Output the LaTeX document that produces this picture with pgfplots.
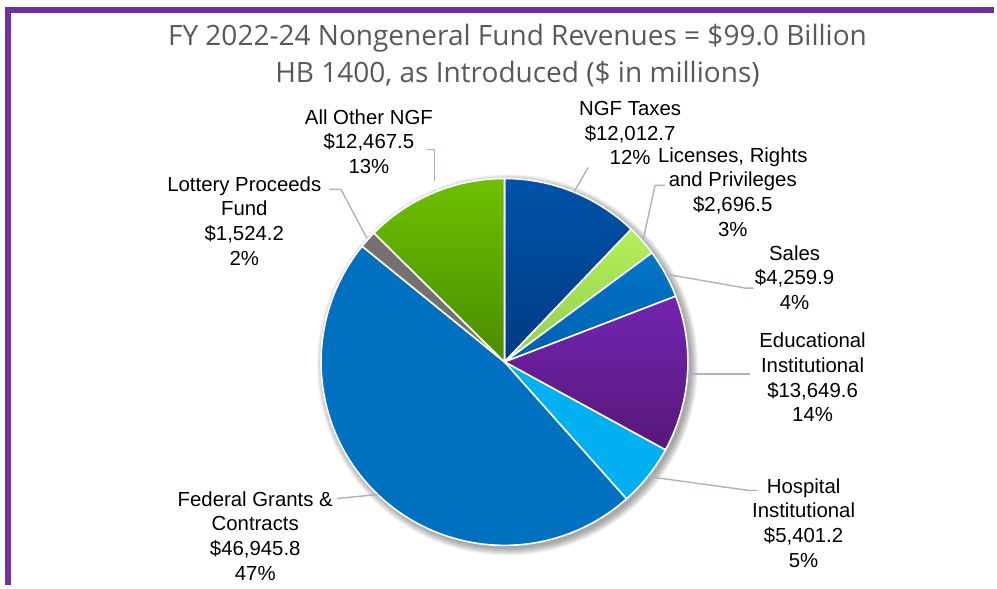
\documentclass[border=0pt]{standalone}
\usepackage{pgfplots}
\pgfplotsset{compat=1.18}
\usepackage{pgfplotstable}
\usepackage{fontspec}
\setmainfont{Liberation Sans}
\newfontfamily\titlefont{Open Sans}
\definecolor{purp}{HTML}{7030A0}
\definecolor{ttl}{HTML}{595959}
\definecolor{lead}{HTML}{A6B4C6}
\definecolor{ngfA}{HTML}{0052AA}
\definecolor{ngfB}{HTML}{003B82}
\definecolor{licA}{HTML}{B4EE58}
\definecolor{licB}{HTML}{92D050}
\definecolor{salA}{HTML}{0076CA}
\definecolor{salB}{HTML}{0060AE}
\definecolor{eduA}{HTML}{7424B2}
\definecolor{eduB}{HTML}{561878}
\definecolor{hosp}{HTML}{00B0F0}
\definecolor{fed}{HTML}{0070C0}
\definecolor{lot}{HTML}{767171}
\definecolor{othA}{HTML}{6EC000}
\definecolor{othB}{HTML}{4A8C00}
\newcommand\lbl{\fontsize{20.5}{24.8}\selectfont}
\newcommand\pS[1]{\csname pieS#1\endcsname}
\newcommand\pE[1]{\csname pieE#1\endcsname}
\begin{document}
\begin{tikzpicture}
\pgfplotstableread[col sep=comma]{
slice,value
NGF Taxes,12012.7
Licenses Rights and Privileges,2696.5
Sales,4259.9
Educational Institutional,13649.6
Hospital Institutional,5401.2
Federal Grants and Contracts,46945.8
Lottery Proceeds Fund,1524.2
All Other NGF,12467.5
}\pietable
\def\pietotal{0}
\pgfplotsforeachungrouped \i in {0,...,7}{%
  \pgfplotstablegetelem{\i}{value}\of\pietable
  \edef\pietotal{\fpeval{\pietotal+\pgfplotsretval}}%
}
\def\piecum{0}
\pgfplotsforeachungrouped \i in {0,...,7}{%
  \pgfplotstablegetelem{\i}{value}\of\pietable
  \edef\sa{\fpeval{round(90-360*\piecum/\pietotal,4)}}%
  \edef\piecum{\fpeval{\piecum+\pgfplotsretval}}%
  \edef\sb{\fpeval{round(90-360*\piecum/\pietotal,4)}}%
  \expandafter\xdef\csname pieS\i\endcsname{\sb}%
  \expandafter\xdef\csname pieE\i\endcsname{\sa}%
}
\begin{axis}[scale only axis, width=997bp, height=587bp,
  xmin=0, xmax=997, ymin=0, ymax=587, hide axis, clip=false]
\path (axis cs:0,0) rectangle (axis cs:997,587);
% border
\draw[purp, line width=6bp, line join=miter] (axis cs:8,0) -- (axis cs:8,577) -- (axis cs:997,577);
% soft shadow
\pgfplotsinvokeforeach{1,2,3,4,5,6,7,8}{
  \fill[black, opacity=0.05] (axis cs:509,221) circle[radius=183+#1];
}
% slices
\addplot[mark=none, draw=white, line width=1.6bp, top color=ngfA, bottom color=ngfB, domain=\pS{0}:\pE{0}, samples=60]
  ({506+184*cos(x)},{224+184*sin(x)}) -- (axis cs:506,224) -- cycle;
\addplot[mark=none, draw=white, line width=1.6bp, top color=licA, bottom color=licB, domain=\pS{1}:\pE{1}, samples=30]
  ({506+184*cos(x)},{224+184*sin(x)}) -- (axis cs:506,224) -- cycle;
\addplot[mark=none, draw=white, line width=1.6bp, top color=salA, bottom color=salB, domain=\pS{2}:\pE{2}, samples=30]
  ({506+184*cos(x)},{224+184*sin(x)}) -- (axis cs:506,224) -- cycle;
\addplot[mark=none, draw=white, line width=1.6bp, top color=eduA, bottom color=eduB, domain=\pS{3}:\pE{3}, samples=60]
  ({506+184*cos(x)},{224+184*sin(x)}) -- (axis cs:506,224) -- cycle;
\addplot[mark=none, draw=white, line width=1.6bp, fill=hosp, domain=\pS{4}:\pE{4}, samples=30]
  ({506+184*cos(x)},{224+184*sin(x)}) -- (axis cs:506,224) -- cycle;
\addplot[mark=none, draw=white, line width=1.6bp, fill=fed, domain=\pS{5}:\pE{5}, samples=150]
  ({506+184*cos(x)},{224+184*sin(x)}) -- (axis cs:506,224) -- cycle;
\addplot[mark=none, draw=white, line width=1.6bp, fill=lot, domain=\pS{6}:\pE{6}, samples=20]
  ({506+184*cos(x)},{224+184*sin(x)}) -- (axis cs:506,224) -- cycle;
\addplot[mark=none, draw=white, line width=1.6bp, top color=othA, bottom color=othB, domain=\pS{7}:\pE{7}, samples=60]
  ({506+184*cos(x)},{224+184*sin(x)}) -- (axis cs:506,224) -- cycle;
% leader lines
\draw[lead, line width=1.4bp] (axis cs:590,419) -- (axis cs:576,395);
\draw[lead, line width=1.4bp] (axis cs:667,401) -- (axis cs:657,401) -- (axis cs:645,346);
\draw[lead, line width=1.4bp] (axis cs:756,298) -- (axis cs:748,298) -- (axis cs:668,312);
\draw[lead, line width=1.4bp] (axis cs:690,212) -- (axis cs:752,212);
\draw[lead, line width=1.4bp] (axis cs:650,109) -- (axis cs:752,95) -- (axis cs:760,95);
\draw[lead, line width=1.4bp] (axis cs:338,87) -- (axis cs:379,91);
\draw[lead, line width=1.4bp] (axis cs:330,397) -- (axis cs:342,397) -- (axis cs:368,348);
\draw[lead, line width=1.4bp] (axis cs:428,437) -- (axis cs:436,437) -- (axis cs:436,405);
% labels
\node[align=center, font=\lbl] at (axis cs:632,453.5) {NGF Taxes\\\$12,012.7\\12\%};
\node[align=center, font=\lbl] at (axis cs:735,394.5) {Licenses, Rights\\and Privileges\\\$2,696.5\\3\%};
\node[align=center, font=\lbl] at (axis cs:797,308.5) {Sales\\\$4,259.9\\4\%};
\node[align=center, font=\lbl] at (axis cs:815,208.5) {Educational\\Institutional\\\$13,649.6\\14\%};
\node[align=center, font=\lbl] at (axis cs:806,62.5) {Hospital\\Institutional\\\$5,401.2\\5\%};
\node[align=center, font=\lbl] at (axis cs:256,49.5) {Federal Grants \&\\Contracts\\\$46,945.8\\47\%};
\node[align=center, font=\lbl] at (axis cs:245,365.5) {Lottery Proceeds\\Fund\\\$1,524.2\\2\%};
\node[align=center, font=\lbl] at (axis cs:370,445) {All Other NGF\\\$12,467.5\\13\%};
% title
\node[font=\titlefont\fontsize{28.2}{32}\selectfont, text=ttl] at (axis cs:519,549) {FY 2022-24 Nongeneral Fund Revenues = \$99.0 Billion};
\node[font=\titlefont\fontsize{28.2}{32}\selectfont, text=ttl] at (axis cs:519,513) {HB 1400, as Introduced (\$ in millions)};
\end{axis}
\end{tikzpicture}
\end{document}
